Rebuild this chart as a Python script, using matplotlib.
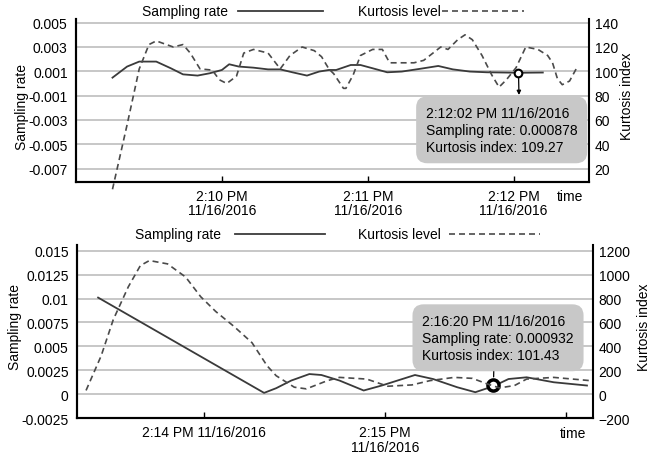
import matplotlib
matplotlib.use('Agg')
import matplotlib.pyplot as plt
from matplotlib.lines import Line2D
from datetime import datetime, timedelta

plt.rcParams['font.family'] = ['Liberation Sans', 'DejaVu Sans']
plt.rcParams['font.size'] = 10

## upper chart (seconds after 2:09:00 PM)
top_rate_sec = [15, 21, 26, 33, 39, 44, 50, 55, 60, 63, 67, 73, 79, 84, 89, 95, 100, 104, 107,
                113, 117, 122, 128, 134, 141, 149, 155, 162, 169, 176, 182, 192]
top_rate = [0.00048, 0.00139, 0.0018, 0.0018, 0.00125, 0.00075, 0.00065, 0.00084, 0.00111, 0.00158,
            0.00139, 0.0013, 0.00116, 0.00116, 0.00092, 0.00065, 0.00098, 0.00111, 0.00111, 0.00152,
            0.00152, 0.00125, 0.00092, 0.00098, 0.00119, 0.00144, 0.00116, 0.00098, 0.00092, 0.0009,
            0.000878, 0.0009]
top_kurt_sec = [15, 21, 26, 30, 33, 40, 44, 47, 51, 56, 59, 62, 66, 69, 73, 79, 84, 88, 93, 98, 101,
                104, 106, 110, 111, 114, 117, 122, 126, 129, 134, 139, 143, 150, 153, 157, 160, 163,
                167, 171, 174, 177, 181, 185, 190, 194, 196, 198, 200, 203, 206]
top_kurt = [3, 56, 102, 122, 125, 120, 122, 115, 102, 101, 93, 90, 96, 115, 118, 115, 102, 113, 120,
            117, 112, 102, 98, 86, 86, 97, 113, 118, 118, 107, 107, 107, 109, 120, 118, 126, 130, 126,
            113, 97, 87, 93, 103, 120, 118, 113, 107, 94, 89, 92, 103]
top_ticks = [60, 120, 180]
top_tick_labels = ['2:10 PM\n11/16/2016', '2:11 PM\n11/16/2016', '2:12 PM\n11/16/2016']
top_left_ticks = [0.005, 0.003, 0.001, -0.001, -0.003, -0.005, -0.007]
top_left_labels = ['0.005', '0.003', '0.001', '-0.001', '-0.003', '-0.005', '-0.007']
top_right_ticks = [140, 120, 100, 80, 60, 40, 20]
top_marker_sec = 182
top_marker_rate = 0.000878
top_tip = '2:12:02 PM 11/16/2016\nSampling rate: 0.000878\nKurtosis index: 109.27'

## lower chart (seconds after 2:13:00 PM)
bot_rate_sec = [25, 80, 84, 89, 95, 99, 105, 113, 119, 130, 136, 144, 150, 156, 161, 167, 176, 187]
bot_rate = [0.0101, 0.00013, 0.00062, 0.00142, 0.0021, 0.002, 0.00142, 0.00038, 0.0009, 0.002,
            0.00158, 0.00072, 0.0002, 0.00083, 0.00158, 0.00176, 0.00124, 0.0009]
bot_kurt_sec = [21, 26, 30, 35, 39, 42, 48, 54, 59, 64, 70, 76, 81, 84, 90, 94, 101, 105, 114, 121,
                129, 135, 143, 149, 154, 158, 163, 167, 176, 188]
bot_kurt = [31, 320, 622, 898, 1076, 1118, 1090, 980, 815, 691, 567, 430, 237, 154, 58, 44, 113, 140,
            126, 66, 77, 113, 140, 132, 85, 52, 72, 126, 140, 113]
bot_ticks = [60, 120, 180]
bot_tick_labels = ['2:14 PM 11/16/2016', '2:15 PM\n11/16/2016', '']
bot_left_ticks = [0.015, 0.0125, 0.01, 0.0075, 0.005, 0.0025, 0, -0.0025]
bot_left_labels = ['0.015', '0.0125', '0.01', '0.0075', '0.005', '0.0025', '0', '-0.0025']
bot_right_ticks = [1200, 1000, 800, 600, 400, 200, 0, -200]
bot_marker_sec = 156
bot_marker_rate = 0.000932
bot_tip = '2:16:20 PM 11/16/2016\nSampling rate: 0.000932\nKurtosis index: 101.43'

solid_c = '#3a3a3a'
dash_c = '#4a4a4a'


def t(base, secs):
    return [base + timedelta(seconds=s) for s in secs]


def panel(ax, base, r_sec, r_val, k_sec, k_val, xlim, ylim, ylim2, ticks, tlabels,
          lticks, llabels, rticks, m_sec, m_val, marker_big):
    ax2 = ax.twinx()
    ax.plot(t(base, r_sec), r_val, color=solid_c, lw=1.3, zorder=3)
    ax2.plot(t(base, k_sec), k_val, color=dash_c, lw=1.2, dashes=(3.6, 2.4), clip_on=False)
    ax.set_xlim(base + timedelta(seconds=xlim[0]), base + timedelta(seconds=xlim[1]))
    ax.set_ylim(*ylim)
    ax2.set_ylim(*ylim2)
    ax.set_xticks(t(base, ticks))
    ax.set_xticklabels(tlabels)
    for lab in ax.get_xticklabels():
        lab.set_linespacing(1.05)
    ax.set_yticks(lticks)
    ax.set_yticklabels(llabels)
    ax2.set_yticks(rticks)
    ax.yaxis.grid(True, color='#bdbdbd', lw=1.2)
    ax.set_axisbelow(True)
    ax.tick_params(axis='x', direction='in', length=4, width=1, pad=5)
    ax.tick_params(axis='y', length=0, pad=6)
    ax2.tick_params(axis='y', length=0, pad=4)
    for a in (ax, ax2):
        a.spines['top'].set_visible(False)
        for s in ('left', 'right', 'bottom'):
            a.spines[s].set_linewidth(1.5)
    ax.spines['right'].set_visible(False)
    if marker_big:
        ax.plot(t(base, [m_sec]), [m_val], 'o', ms=8, mfc='white', mec='black', mew=2.5,
                zorder=5, clip_on=False)
    else:
        ax.plot(t(base, [m_sec]), [m_val], 'o', ms=5.5, mfc='white', mec='black', mew=1.5,
                zorder=5, clip_on=False)
    return ax2


fig = plt.figure(figsize=(6.57, 4.56), dpi=100)

# upper
base1 = datetime(2016, 11, 16, 14, 9, 0)
ax = fig.add_axes([0.1157, 0.5987, 0.7808, 0.3574])
ax2 = panel(ax, base1, top_rate_sec, top_rate, top_kurt_sec, top_kurt, (0, 211),
            (-0.0081, 0.0053), (9, 143), top_ticks, top_tick_labels,
            top_left_ticks, top_left_labels, top_right_ticks, top_marker_sec, top_marker_rate, False)
ax.set_ylabel('Sampling rate')
ax.yaxis.set_label_coords(-0.092, 0.466)
ax2.set_ylabel('Kurtosis index')
ax2.yaxis.set_label_coords(1.06, 0.534)
ax.text(0.963, -0.086, 'time', transform=ax.transAxes, va='center', ha='center')
ax.text(0.682, 0.466, top_tip, transform=ax.transAxes, va='top', ha='left', linespacing=1.25,
        zorder=6, bbox=dict(boxstyle='round,pad=0.7,rounding_size=0.8', fc='#c8c8c8', ec='none'))
ax.annotate('', xy=(0.8635, 0.534), xycoords='axes fraction',
            xytext=(base1 + timedelta(seconds=top_marker_sec), top_marker_rate), textcoords='data',
            arrowprops=dict(arrowstyle='-|>', color='black', lw=0.9, shrinkA=4, shrinkB=0,
                            mutation_scale=6))

# lower
base2 = datetime(2016, 11, 16, 14, 13, 0)
bx = fig.add_axes([0.1172, 0.0811, 0.7854, 0.3794])
bx2 = panel(bx, base2, bot_rate_sec, bot_rate, bot_kurt_sec, bot_kurt, (18, 189),
            (-0.0025, 0.0156), (-200, 1248), bot_ticks, bot_tick_labels,
            bot_left_ticks, bot_left_labels, bot_right_ticks, bot_marker_sec, bot_marker_rate, True)
bx.set_ylabel('Sampling rate')
bx.yaxis.set_label_coords(-0.107, 0.53)
bx2.set_ylabel('Kurtosis index')
bx2.yaxis.set_label_coords(1.085, 0.53)
bx.text(0.961, -0.087, 'time', transform=bx.transAxes, va='center', ha='center')
bx.text(0.669, 0.601, bot_tip, transform=bx.transAxes, va='top', ha='left', linespacing=1.25,
        zorder=6, bbox=dict(boxstyle='round,pad=0.7,rounding_size=0.8', fc='#c8c8c8', ec='none'))
bx.annotate('', xy=(0.808, 0.312), xycoords='axes fraction',
            xytext=(base2 + timedelta(seconds=bot_marker_sec), bot_marker_rate), textcoords='data',
            arrowprops=dict(arrowstyle='-|>', color='black', lw=0.9, shrinkA=6, shrinkB=0,
                            mutation_scale=6))

# legends drawn by hand (text before line)
W, H = 657, 456
for y, x_text1, l1, x_text2, l2 in [(12, 228, (238, 323), 358, (442, 524)),
                                      (235, 221, (235, 325), 358, (449, 540))]:
    fy = 1 - y / H
    fig.text(x_text1 / W, fy, 'Sampling rate', ha='right', va='center')
    fig.add_artist(Line2D([l1[0] / W, l1[1] / W], [fy, fy], color=solid_c, lw=1.3,
                          transform=fig.transFigure))
    fig.text(x_text2 / W, fy, 'Kurtosis level', ha='left', va='center')
    fig.add_artist(Line2D([l2[0] / W, l2[1] / W], [fy, fy], color=dash_c, lw=1.2,
                          dashes=(3.6, 2.4), transform=fig.transFigure))

fig.savefig('out.png', dpi=100)
